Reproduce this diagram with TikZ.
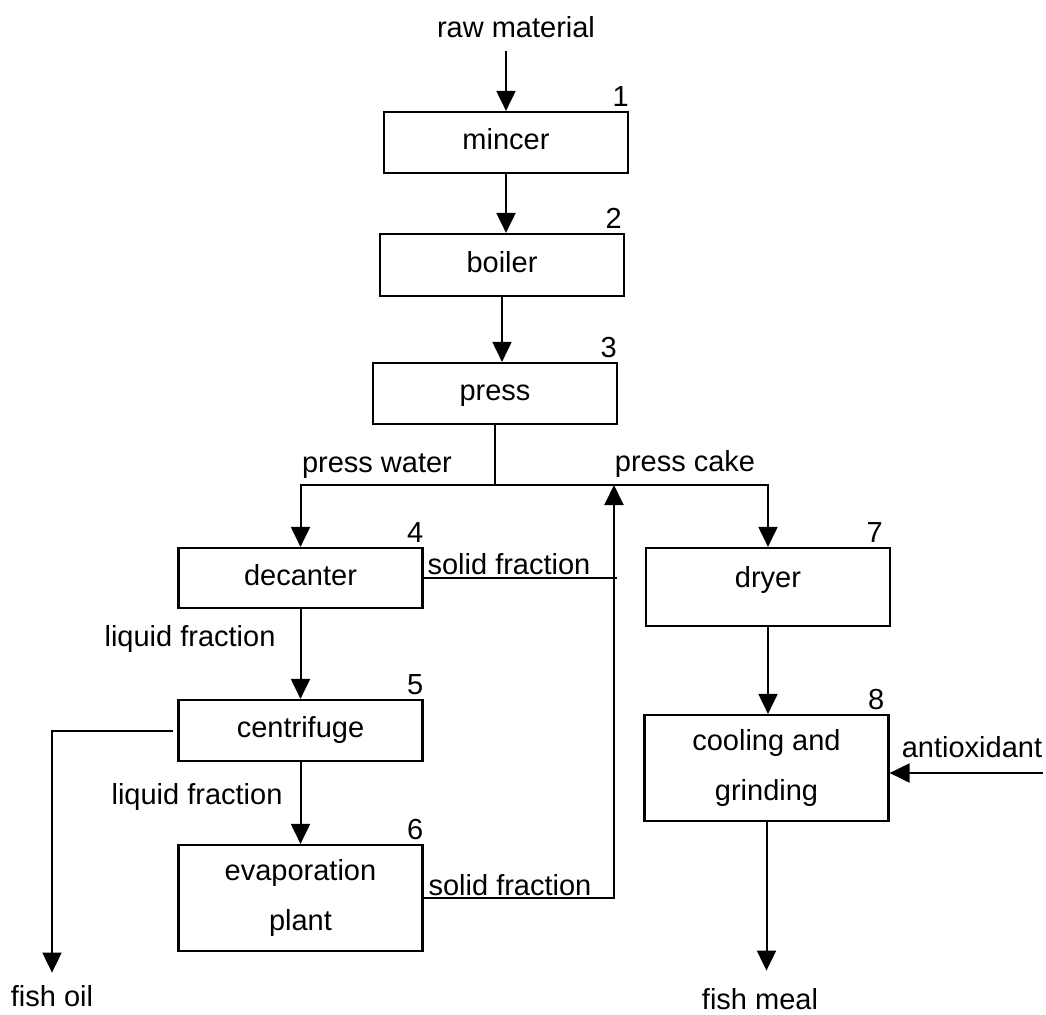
\documentclass[tikz,border=0pt]{standalone}
\usepackage{fontspec}
\setmainfont{Liberation Sans}
\usetikzlibrary{arrows.meta,calc}
\begin{document}
\begin{tikzpicture}[x=0.5pt,y=-0.5pt,
  font=\fontsize{14.5}{25}\selectfont,
  stage/.style={draw,line width=1.1pt,minimum width=122pt,minimum height=#1,
    inner sep=0pt,align=center},
  oneline/.style={text height=10.4pt,text depth=3pt},
  lbl/.style={anchor=base,inner sep=0pt},
  num/.style={anchor=base east,inner sep=0pt},
  flow/.style={line width=1pt},
  arr/.style={flow,-{Triangle[length=10pt,width=9.5pt]}}]
\useasboundingbox (0,0) rectangle (1046,1014);

% process stages
\node[stage=30.5pt,oneline] (mincer) at (506,142.5) {mincer};
\node[stage=31pt,oneline] (boiler) at (502,265) {boiler};
\node[stage=30.5pt,oneline] (press) at (495,393.5) {press};
\node[stage=30pt,oneline] (decanter) at (300.5,578) {decanter};
\node[stage=30.5pt,oneline] (centrifuge) at (300.5,730.5) {centrifuge};
\node[stage=53pt] (evap) at (300.5,898) {evaporation\\plant};
\node[stage=39pt,text height=10.4pt,text depth=9.9pt] (dryer) at (768,587) {dryer};
\node[stage=53pt] (cooling) at (766.5,768) {cooling and\\grinding};

% stage numbers
\node[num] at ($(mincer.north east)+(0,-4)$) {1};
\node[num] at ($(boiler.north east)+(-3,-4)$) {2};
\node[num] at ($(press.north east)+(-1,-4)$) {3};
\node[num] at ($(decanter.north east)+(0,-4)$) {4};
\node[num] at ($(centrifuge.north east)+(0,-4)$) {5};
\node[num] at ($(evap.north east)+(0,-4)$) {6};
\node[num] at ($(dryer.north east)+(-8,-4)$) {7};
\node[num] at ($(cooling.north east)+(-5,-4)$) {8};

% inputs, outputs and stream labels
\node[lbl] (raw) at (516,37) {raw material};
\node[lbl] (fishoil) at (52,1006) {fish oil};
\node[lbl] (fishmeal) at (760,1009) {fish meal};
\node[lbl] (antiox) at (972,757) {antioxidant};
\node[lbl] (pw) at (377,472) {press water};
\node[lbl] (pc) at (685,471) {press cake};
\node[lbl] (sf1) at (509,574) {solid fraction};
\node[lbl] (sf2) at (510,895) {solid fraction};
\node[lbl] (lf1) at (190,646) {liquid fraction};
\node[lbl] (lf2) at (197,804) {liquid fraction};

\coordinate (split) at (495,485);
\coordinate (rx) at (614,485);
\coordinate (aox) at (1043,773);

% main line
\draw[arr,shorten <=6.5pt] (raw.south -| mincer.north) -- (mincer.north);
\draw[arr] (mincer.south) -- (mincer.south |- boiler.north);
\draw[arr] (boiler.south) -- (boiler.south |- press.north);
\draw[flow] (press.south) -- (split);
\draw[arr] (split) -| (decanter.north);
\draw[arr] (split) -| (dryer.north);

% liquid branch
\draw[arr] (decanter.south) -- (decanter.south |- centrifuge.north);
\draw[arr] (centrifuge.south) -- (centrifuge.south |- evap.north);
\draw[arr,shorten >=6pt] ([xshift=-2pt]centrifuge.west) -| (fishoil.north);

% solids returned to the press cake
\draw[arr] (evap.east) -| (rx);
\draw[flow] (decanter.east) -- ($(decanter.east -| rx)+(3,0)$);

% solid branch
\draw[arr] (dryer.south) -- (dryer.south |- cooling.north);
\draw[arr] (aox) -- (aox -| cooling.east);
\draw[arr,shorten >=8.5pt] (cooling.south) -- (cooling.south |- fishmeal.north);
\end{tikzpicture}
\end{document}
